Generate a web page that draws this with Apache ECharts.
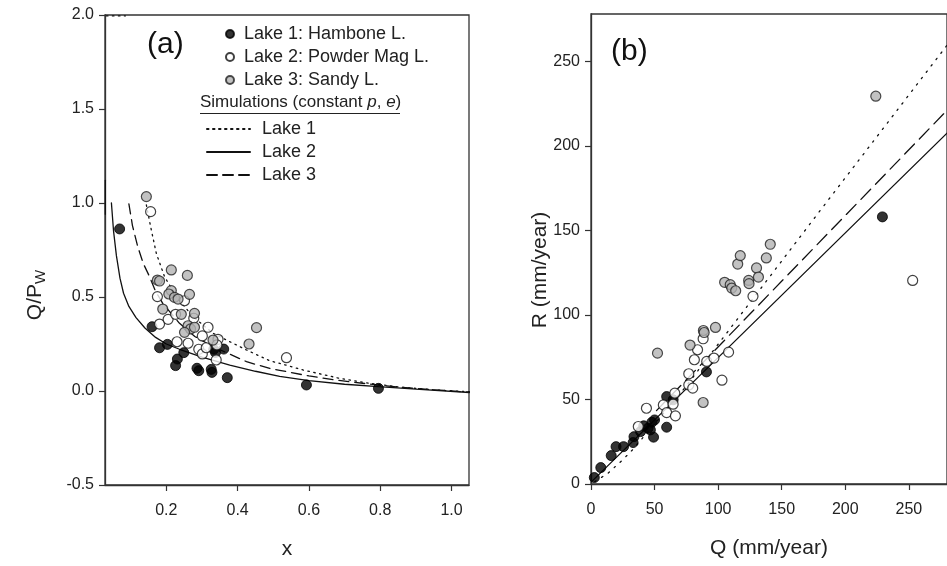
<!DOCTYPE html>
<html><head><meta charset="utf-8">
<script src="https://cdn.jsdelivr.net/npm/echarts@6/dist/echarts.min.js"></script>
<style>html,body{margin:0;padding:0;background:#fff}#c{width:947px;height:566px}</style>
</head><body><div id="c"></div>
<script>
// ---------- Panel (a): Q/Pw vs x ----------
const lake1A = [[0.069,0.862],[0.160,0.342],[0.181,0.230],[0.203,0.248],[0.231,0.170],[0.226,0.135],[0.249,0.204],[0.286,0.121],[0.291,0.108],[0.326,0.115],[0.328,0.099],[0.333,0.222],[0.338,0.205],[0.361,0.223],[0.371,0.071],[0.593,0.032],[0.795,0.014]];
const lake2A = [[0.156,0.954],[0.175,0.502],[0.181,0.356],[0.205,0.381],[0.226,0.408],[0.230,0.262],[0.251,0.480],[0.261,0.254],[0.277,0.387],[0.291,0.222],[0.301,0.293],[0.301,0.197],[0.312,0.230],[0.317,0.339],[0.345,0.275],[0.340,0.165],[0.342,0.245],[0.537,0.177]];
const lake3A = [[0.144,1.034],[0.175,0.590],[0.181,0.585],[0.214,0.644],[0.259,0.615],[0.214,0.534],[0.207,0.516],[0.223,0.498],[0.233,0.489],[0.265,0.514],[0.190,0.436],[0.242,0.408],[0.279,0.413],[0.261,0.347],[0.268,0.330],[0.279,0.339],[0.251,0.312],[0.331,0.271],[0.432,0.250],[0.453,0.337]];
const sim1A = [[0.144,0.99],[0.158,0.856],[0.172,0.732],[0.195,0.608],[0.228,0.502],[0.275,0.395],[0.331,0.307],[0.425,0.218],[0.49,0.161],[0.518,0.147],[0.583,0.112],[0.68,0.07],[0.77,0.041],[0.86,0.02],[0.958,0.005],[1.05,-0.004]];
const sim1AEdge = [[0.032,1.995],[0.085,1.995]];
const sim2A = [[0.046,1.0],[0.052,0.85],[0.06,0.72],[0.07,0.6],[0.08,0.52],[0.095,0.45],[0.115,0.39],[0.14,0.335],[0.17,0.285],[0.2,0.25],[0.237,0.222],[0.3,0.18],[0.378,0.138],[0.45,0.105],[0.518,0.078],[0.6,0.055],[0.7,0.036],[0.795,0.023],[0.9,0.01],[1.05,-0.008]];
const sim2AEdge = [[0.029,1.12],[0.029,0.94]];
const sim3A = [[0.095,0.995],[0.105,0.88],[0.12,0.767],[0.135,0.68],[0.153,0.608],[0.17,0.53],[0.19,0.466],[0.237,0.36],[0.28,0.29],[0.331,0.236],[0.425,0.156],[0.49,0.12],[0.518,0.11],[0.6,0.08],[0.677,0.058],[0.8,0.03],[0.9,0.013],[1.05,-0.006]];
const xTicksA = [0.2,0.4,0.6,0.8,1.0];
const yTicksA = [-0.5,0.0,0.5,1.0,1.5,2.0];

// ---------- Panel (b): R vs Q ----------
const lake1B = [[2.6,3.8],[7.7,9.7],[15.9,16.8],[19.7,22.1],[25.6,22.1],[33.8,28.0],[33.1,24.5],[39,31],[41.5,34.4],[44.9,33],[47.9,36.5],[50,37.9],[46.7,32],[49.2,27.7],[59.5,33.6],[59.5,51.7],[64.6,49.8],[90.8,66.3],[229.2,158]];
const lake2B = [[37.2,34],[43.6,44.8],[56.9,46.8],[59.5,42.2],[64.6,47.2],[65.9,53.7],[66.4,40.3],[76.9,65.2],[76.9,58.6],[80,56.7],[81.3,73.5],[83.8,79.4],[88.2,85.9],[91,72.5],[96.7,74.5],[103,61.4],[108.2,78],[127.4,111],[253,120.4]];
const lake3B = [[52.3,77.4],[77.9,82.2],[88.4,90.8],[89,89.6],[97.9,92.6],[88.2,48.2],[105.1,119.3],[109.5,117.9],[110.7,115.9],[113.8,114.3],[115.4,130.1],[117.4,135.1],[124,120.4],[124.3,118.5],[130.2,127.8],[131.7,122.4],[137.9,133.7],[141,141.8],[224,229.4]];
const sim1B = [[3,1.4],[13.3,6.3],[24.8,14.2],[32.5,20.1],[50,35.5],[73.6,56.7],[109.4,91.9],[142.8,124.8],[180,161.5],[270.5,250.2],[280,259.5]];
const sim2B = [[0.5,1.4],[280,207.5]];
const sim3B = [[51.5,43.4],[105.4,85.3],[280,221]];
const xTicksB = [0,50,100,150,200,250];
const yTicksB = [0,50,100,150,200,250];

const legendPts = ['Lake 1: Hambone L.','Lake 2: Powder Mag L.','Lake 3: Sandy L.'];
const legendSims = ['Lake 1','Lake 2','Lake 3'];

const FONT = '"Liberation Sans", Arial, sans-serif';
const AX = '#333';
const TXT = '#222';

function xAxisCfg(gi, min, max, ticks, name, dec) {
  return {
    type:'value', gridIndex:gi, min:min, max:max,
    name:name, nameLocation:'middle', nameGap:54,
    nameTextStyle:{fontFamily:FONT, fontSize:21, color:TXT},
    axisLine:{show:true, onZero:false, lineStyle:{color:AX, width:1.3}},
    axisTick:{show:true, inside:false, length:6, customValues:ticks, lineStyle:{color:AX, width:1.2}},
    axisLabel:{customValues:ticks, margin:18, fontFamily:FONT, fontSize:16, color:TXT,
      formatter:v=>v.toFixed(dec)},
    splitLine:{show:false}
  };
}
function yAxisCfg(gi, min, max, ticks, dec) {
  return {
    type:'value', gridIndex:gi, min:min, max:max,
    axisLine:{show:true, onZero:false, lineStyle:{color:AX, width:1.3}},
    axisTick:{show:true, inside:false, length:6, customValues:ticks, lineStyle:{color:AX, width:1.2}},
    axisLabel:{customValues:ticks, margin:11, fontFamily:FONT, fontSize:16, color:TXT,
      formatter:v=>v.toFixed(dec)},
    splitLine:{show:false}
  };
}

const blackStyle = {color:'#000', borderColor:'#000', borderWidth:1};
const openStyle = {color:'#fff', borderColor:'#111', borderWidth:1.2};
const grayStyle = {color:'#b3b3b3', borderColor:'#222', borderWidth:1.2};

function scatter(name, data, gi, style) {
  return {type:'scatter', name:name, xAxisIndex:gi, yAxisIndex:gi, data:data,
    symbol:'circle', symbolSize:10, itemStyle:style, z:5, silent:true};
}
function line(name, data, gi, type) {
  return {type:'line', name:name, xAxisIndex:gi, yAxisIndex:gi, data:data,
    symbol:'none', smooth:false, z:3, silent:true,
    itemStyle:{color:'#111'},
    lineStyle:{color:'#111', width:1.3, type:type, cap:'round'}};
}

const option = {
  animation:false,
  backgroundColor:'#fff',
  grid:[
    {left:105, top:15, width:364, height:470, show:true, borderColor:AX, borderWidth:1.3, backgroundColor:'transparent'},
    {left:591, top:14, width:364, height:470, show:true, borderColor:AX, borderWidth:1.3, backgroundColor:'transparent'}
  ],
  xAxis:[
    xAxisCfg(0, 0.028, 1.049, xTicksA, 'x', 1),
    xAxisCfg(1, 0, 280, xTicksB, 'Q (mm/year)', 0)
  ],
  yAxis:[
    yAxisCfg(0, -0.5, 2.0, yTicksA, 1),
    yAxisCfg(1, 0, 278, yTicksB, 0)
  ],
  legend:[
    {data:legendPts, orient:'vertical', left:225, top:24, padding:0, itemWidth:8, itemHeight:8, itemGap:3,
      selectedMode:false, icon:'circle',
      textStyle:{fontFamily:FONT, fontSize:18, color:TXT, lineHeight:20, padding:[0,0,0,5]}},
    {data:legendSims, orient:'vertical', left:206, top:119, padding:0, itemWidth:43, itemHeight:10, itemGap:3,
      selectedMode:false,
      itemStyle:{color:'rgba(0,0,0,0)', borderColor:'rgba(0,0,0,0)', borderWidth:0, opacity:0},
      textStyle:{fontFamily:FONT, fontSize:18, color:TXT, lineHeight:20, padding:[0,0,0,7]}}
  ],
  graphic:[
    {type:'text', left:147, top:30, style:{text:'(a)', fontFamily:FONT, fontSize:30, fill:'#111'}},
    {type:'text', left:611, top:37, style:{text:'(b)', fontFamily:FONT, fontSize:30, fill:'#111'}},
    {type:'text', left:200, top:94, style:{text:'Simulations (constant {i|p}, {i|e})', fontFamily:FONT, fontSize:17, fill:TXT,
      rich:{i:{fontFamily:FONT, fontSize:17, fontStyle:'italic', fill:TXT}}}},
    {type:'line', shape:{x1:200, y1:113.5, x2:400, y2:113.5}, style:{stroke:TXT, lineWidth:1}},
    {type:'text', x:35, y:295, rotation:Math.PI/2,
      style:{text:'{m|Q/P}{s|W}', align:'center', verticalAlign:'middle',
        rich:{m:{fontFamily:FONT, fontSize:21, fill:TXT, lineHeight:26, verticalAlign:'middle'},
              s:{fontFamily:FONT, fontSize:15, fill:TXT, lineHeight:26, verticalAlign:'bottom', padding:[10,0,0,0]}}}},
    {type:'text', x:540, y:270, rotation:Math.PI/2,
      style:{text:'R (mm/year)', align:'center', verticalAlign:'middle', fontFamily:FONT, fontSize:21, fill:TXT}}
  ],
  series:[
    line('Lake 1', sim1A, 0, [1.5,4.5]),
    line('Lake 2', sim2A, 0, 'solid'),
    line('Lake 3', sim3A, 0, [10,6]),
    line('edgeA', sim2AEdge, 0, 'solid'),
    line('edgeA1', sim1AEdge, 0, [1.5,4.5]),
    scatter('Lake 1: Hambone L.', lake1A, 0, blackStyle),
    scatter('Lake 2: Powder Mag L.', lake2A, 0, openStyle),
    scatter('Lake 3: Sandy L.', lake3A, 0, grayStyle),
    line('sim1B', sim1B, 1, [1.5,6.5]),
    line('sim2B', sim2B, 1, 'solid'),
    line('sim3B', sim3B, 1, [14,7]),
    scatter('b1', lake1B, 1, blackStyle),
    scatter('b2', lake2B, 1, openStyle),
    scatter('b3', lake3B, 1, grayStyle)
  ]
};
const chart = echarts.init(document.getElementById('c'), null, {renderer:'canvas'});
chart.setOption(option);
</script>
</body></html>
